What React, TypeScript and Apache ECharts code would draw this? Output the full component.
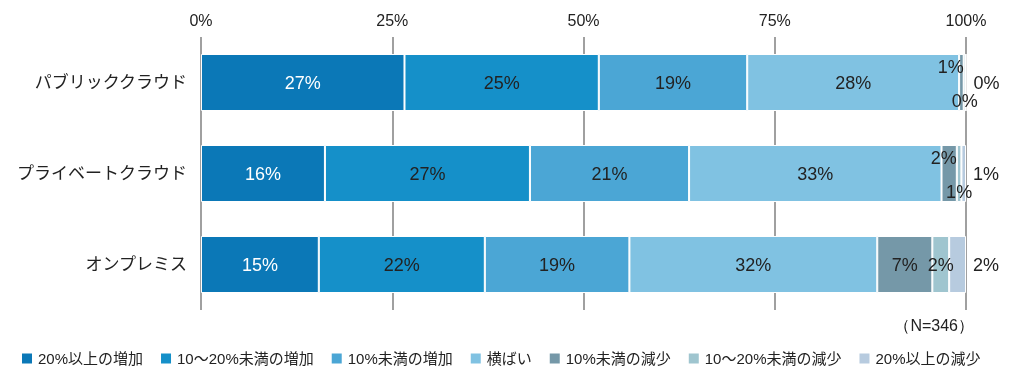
import React, { useEffect, useRef } from "react";
import * as echarts from "echarts";

const categories = ["パブリッククラウド", "プライベートクラウド", "オンプレミス"];
const seriesNames = [
  "20%以上の増加",
  "10～20%未満の増加",
  "10%未満の増加",
  "横ばい",
  "10%未満の減少",
  "10～20%未満の減少",
  "20%以上の減少",
];
// values per series, in category order
const inc20 = [26.6, 16.2, 15.4];
const inc10to20 = [25.4, 26.8, 21.7];
const inc10 = [19.4, 20.8, 18.9];
const flat = [27.7, 33.0, 32.4];
const dec10 = [0.6, 2.0, 7.2];
const dec10to20 = [0.3, 0.6, 2.2];
const dec20 = [0.0, 0.6, 2.2];
const seriesValues = [inc20, inc10to20, inc10, flat, dec10, dec10to20, dec20];
const xTicks = [0, 25, 50, 75, 100];
const sampleNote = "（N=346）";

const colors = ["#0b78b7", "#1590c9", "#4ba6d5", "#80c2e2", "#7598a8", "#9fc5cf", "#b7cbdf"];

const FONT = '"Liberation Sans", Arial, "Noto Sans CJK JP", sans-serif';

function labelFor(si: number, ci: number): any {
  const base: any = {
    show: true,
    fontSize: 18,
    fontFamily: FONT,
    color: si === 0 ? "#ffffff" : "#222222",
  };
  const small = ci < 2; // the cloud rows have tiny decrease segments
  if (si === 6) {
    return { ...base, position: "right", distance: 7 };
  }
  if (small && si === 4) {
    return { ...base, position: ["100%", 4], align: "right", verticalAlign: "top" };
  }
  if (small && si === 5) {
    return { ...base, position: ["50%", "100%"], align: "center", verticalAlign: "bottom", offset: [0, -1] };
  }
  return { ...base, position: "inside" };
}

export default function App() {
  const ref = useRef<HTMLDivElement>(null);
  useEffect(() => {
    if (!ref.current) return;
    const chart = echarts.init(ref.current, undefined, { renderer: "svg" });
    const series = seriesNames.map((name, si) => ({
      name,
      type: "bar",
      stack: "total",
      barWidth: 57,
      itemStyle: { color: colors[si], borderColor: "#ffffff", borderWidth: 1 },
      data: seriesValues[si].map((v, ci) => ({ value: v, label: labelFor(si, ci) })),
      label: { show: true, formatter: (p: any) => Math.round(p.value) + "%" },
    }));
    chart.setOption({
      animation: false,
      textStyle: { fontFamily: FONT },
      grid: { left: 201, right: 64, top: 37, bottom: 69 },
      xAxis: {
        type: "value",
        position: "top",
        min: 0,
        max: 100,
        interval: 25,
        axisLine: { show: false },
        axisTick: { show: false },
        axisLabel: {
          fontSize: 16,
          color: "#222",
          margin: 9,
          fontFamily: FONT,
          formatter: (v: number) => (xTicks.includes(v) ? v + "%" : ""),
        },
        splitLine: { show: true, lineStyle: { color: "#a0a0a0", width: 2 } },
      },
      yAxis: {
        type: "category",
        data: categories,
        inverse: true,
        axisLine: { show: false },
        axisTick: { show: false },
        axisLabel: { fontSize: 17, color: "#222", margin: 14, fontFamily: FONT },
      },
      legend: {
        left: 15,
        top: 346,
        width: 1014,
        icon: "rect",
        itemWidth: 12,
        itemHeight: 12,
        itemGap: 16,
        textStyle: { fontSize: 15, color: "#222", fontFamily: FONT },
        data: seriesNames,
      },
      graphic: [
        {
          type: "text",
          right: 56,
          top: 317,
          style: { text: sampleNote, fontSize: 16, fill: "#222", font: '16px "Noto Sans CJK JP", sans-serif' },
        },
      ],
      series,
    });
    return () => chart.dispose();
  }, []);
  return <div ref={ref} style={{ position: "fixed", left: 0, top: 0, width: 1030, height: 379 }} />;
}
